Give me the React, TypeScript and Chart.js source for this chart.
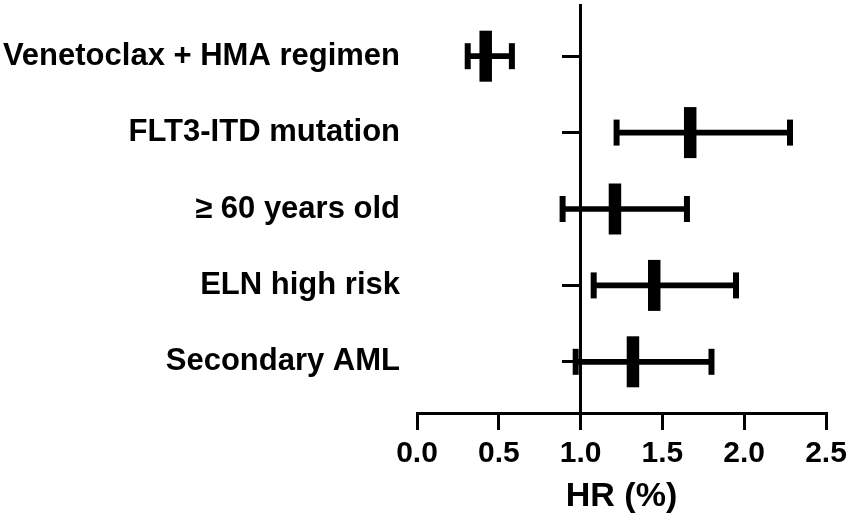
import React, { useEffect, useRef } from "react";
import { Chart, registerables } from "chart.js";

Chart.register(...registerables);

const categories = [
  "Venetoclax + HMA regimen",
  "FLT3-ITD mutation",
  "≥ 60 years old",
  "ELN high risk",
  "Secondary AML",
];
const hrValues = [0.42, 1.67, 1.21, 1.45, 1.32];
const lowerCI = [0.31, 1.22, 0.89, 1.08, 0.97];
const upperCI = [0.58, 2.28, 1.65, 1.95, 1.8];
const xTicks = [0, 0.5, 1, 1.5, 2, 2.5];
const xTitle = "HR (%)";

const FONT = "'Liberation Sans', Arial, Helvetica, sans-serif";

export default function App() {
  const ref = useRef<HTMLCanvasElement | null>(null);

  useEffect(() => {
    if (!ref.current) return;
    const n = categories.length;
    const rowPos = categories.map((_, i) => n - i);
    const labelFor = (v: number) => {
      const idx = n - Math.round(v);
      return categories[idx] ?? "";
    };
    const setRowTicks = (scale: any) => {
      scale.ticks = rowPos.map((v) => ({ value: v }));
    };
    const noVPad = (scale: any) => {
      scale.paddingTop = 0;
      scale.paddingBottom = 0;
    };

    const chart = new Chart(ref.current, {
      type: "scatter",
      data: {
        datasets: [
          {
            type: "bar",
            indexAxis: "y",
            data: rowPos.map((p, i) => ({ y: p, x: [lowerCI[i], upperCI[i]] })) as any,
            backgroundColor: "#000",
            borderWidth: 0,
            barThickness: 5,
            xAxisID: "x",
            yAxisID: "y",
          } as any,
          {
            type: "scatter",
            data: rowPos.flatMap((p, i) => [
              { x: lowerCI[i], y: p },
              { x: upperCI[i], y: p },
            ]),
            pointStyle: "line",
            rotation: 90,
            pointRadius: 13,
            borderWidth: 6,
            borderColor: "#000",
            backgroundColor: "#000",
            xAxisID: "x",
            yAxisID: "y",
          } as any,
          {
            type: "scatter",
            data: rowPos.map((p, i) => ({ x: hrValues[i], y: p })),
            pointStyle: "line",
            rotation: 90,
            pointRadius: 25.5,
            borderWidth: 12.5,
            borderColor: "#000",
            backgroundColor: "#000",
            xAxisID: "x",
            yAxisID: "y",
          } as any,
        ],
      },
      options: {
        animation: false,
        responsive: false,
        maintainAspectRatio: false,
        layout: { autoPadding: false, padding: { left: 0, right: 25, top: 5, bottom: 0 } },
        plugins: {
          legend: { display: false },
          tooltip: { enabled: false },
        },
        scales: {
          x: {
            type: "linear",
            position: "bottom",
            min: 0,
            max: 2.5,
            offset: false,
            afterBuildTicks: (scale: any) => {
              scale.ticks = xTicks.map((v) => ({ value: v }));
            },
            afterFit: (scale: any) => {
              scale.height = 109;
              scale.paddingLeft = 0;
              scale.paddingRight = 0;
            },
            ticks: {
              color: "#000",
              font: { family: FONT, size: 30, weight: "bold" },
              padding: 6,
              maxRotation: 0,
              callback: (v: any) => Number(v).toFixed(1),
            },
            grid: {
              display: true,
              drawOnChartArea: false,
              drawTicks: true,
              tickLength: 17,
              lineWidth: 3,
              color: "#000",
            },
            border: { display: true, width: 3, color: "#000" },
            title: {
              display: true,
              text: xTitle,
              color: "#000",
              font: { family: FONT, size: 34, weight: "bold" },
              padding: { top: 2, bottom: 5 },
            },
          },
          y: {
            type: "linear",
            position: "left",
            min: 0.33,
            max: 5.67,
            offset: false,
            afterBuildTicks: setRowTicks,
            afterFit: (scale: any) => {
              scale.width = 417;
              noVPad(scale);
            },
            ticks: {
              color: "#000",
              font: { family: FONT, size: 31, weight: "bold" },
              padding: 17,
              callback: (v: any) => labelFor(Number(v)),
            },
            grid: { display: false, drawTicks: false },
            border: { display: false },
          },
          yref: {
            type: "linear",
            position: { x: 1 } as any,
            min: 0.33,
            max: 5.67,
            offset: false,
            afterBuildTicks: setRowTicks,
            afterFit: noVPad,
            ticks: { display: false },
            grid: {
              display: true,
              drawOnChartArea: false,
              drawTicks: true,
              tickLength: 17,
              lineWidth: 3,
              color: "#000",
            },
            border: { display: true, width: 3, color: "#000" },
          },
        },
      } as any,
    });
    return () => chart.destroy();
  }, []);

  return (
    <div style={{ position: "fixed", left: 0, top: 0, width: 851, height: 522, background: "#fff" }}>
      <canvas ref={ref} width={851} height={522} style={{ width: 851, height: 522 }} />
    </div>
  );
}
